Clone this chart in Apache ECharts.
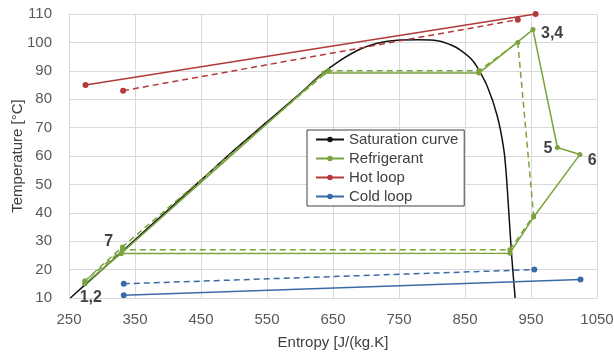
<!DOCTYPE html>
<html>
<head>
<meta charset="utf-8">
<script src="https://cdn.jsdelivr.net/npm/echarts@6/dist/echarts.min.js"></script>
<style>
  html, body { margin: 0; padding: 0; background: #fff; }
  #chart { width: 614px; height: 354px; }
</style>
</head>
<body>
<div id="chart"></div>
<script>
// saturation curve (black)
var satS = [252, 300, 350, 400, 450, 500, 550, 600, 631, 660, 690, 717, 747, 780, 808, 830, 843, 858, 868, 884, 899, 909, 913, 917, 921, 926]
var satT = [10, 20, 30.5, 41, 51.5, 62, 72, 82, 88.5, 93.5, 97.5, 99.7, 100.8, 100.9, 100.6, 99, 97.3, 94.5, 91.5, 84.4, 74, 62, 52, 38, 24, 10]

// refrigerant cycle, solid and dashed
var refS = [274, 329, 636, 871, 953, 990, 1024, 954, 918, 329, 274]
var refT = [15, 25.7, 89.2, 89.2, 104.5, 63, 60.5, 38.5, 25.8, 25.7, 15]
var refDashS = [274, 331, 643, 871, 930, 954, 918, 331, 274]
var refDashT = [16, 28, 90, 90, 100, 39, 27, 27, 16]

// hot loop
var hotS = [275, 957]
var hotT = [85, 110]
var hotDashS = [332, 930]
var hotDashT = [83, 108]

// cold loop
var coldS = [333, 1025]
var coldT = [11, 16.5]
var coldDashS = [333, 955]
var coldDashT = [15, 20]

// state point labels
var stateNames = ['1,2', '3,4', '5', '6', '7']
var stateS = [274, 953, 990, 1024, 329]
var stateT = [15, 104.5, 63, 60.5, 25.7]

var xTicks = [250, 350, 450, 550, 650, 750, 850, 950, 1050]

function pairs(xs, ys) {
    var out = []
    for (let i = 0; i < xs.length; i++) out.push([xs[i], ys[i]])
    return out
}

var green = '#79a33c', red = '#b23a3a', blue = '#3b6aa8'
var font = 'Liberation Sans, Arial, sans-serif'

function lineSeries(name, xs, ys, color, dashed, size) {
    return {
        name: name,
        type: 'line',
        data: pairs(xs, ys),
        symbol: 'circle',
        symbolSize: size,
        showSymbol: true,
        itemStyle: { color: color },
        lineStyle: { color: color, width: 1.5, type: dashed ? [6, 4] : 'solid' },
        emphasis: { disabled: true },
        animation: false
    }
}

var labelPos = [
    { position: 'inside', offset: [6, 14] },
    { position: 'right', distance: 5, offset: [3, 4] },
    { position: 'left', distance: 5, offset: [0, 1] },
    { position: 'right', distance: 5, offset: [3, 6] },
    { position: 'left', distance: 5, offset: [-3, -12] }
]
var stateData = []
for (let i = 0; i < stateNames.length; i++) {
    stateData.push({
        value: [stateS[i], stateT[i]],
        label: Object.assign({ show: true, formatter: stateNames[i] }, labelPos[i])
    })
}

var myChart = echarts.init(document.getElementById('chart'), null, { renderer: 'canvas' })

var option = {
    animation: false,
    textStyle: { fontFamily: font },
    grid: { left: 69, right: 17, top: 14, bottom: 56, containLabel: false, outerBoundsMode: 'none' },
    legend: {
        data: ['Saturation curve', 'Refrigerant', 'Hot loop', 'Cold loop'],
        orient: 'vertical',
        left: 307,
        top: 130,
        itemWidth: 28,
        itemHeight: 7,
        itemGap: 2,
        padding: [1, 6, 1, 8],
        backgroundColor: '#fff',
        borderColor: '#404040',
        borderWidth: 1,
        borderRadius: 0,
        textStyle: { fontSize: 15, lineHeight: 17, color: '#404040', fontFamily: font }
    },
    xAxis: {
        type: 'value',
        min: 250,
        max: 1050,
        name: 'Entropy [J/(kg.K]',
        nameLocation: 'middle',
        nameGap: 37,
        nameMoveOverlap: false,
        nameTextStyle: { fontSize: 15, color: '#404040' },
        axisLine: { show: true, lineStyle: { color: '#d9d9d9' } },
        axisTick: { show: false, customValues: xTicks },
        axisLabel: {
            customValues: xTicks, fontSize: 15, color: '#595959', margin: 14,
            formatter: function (v) { return String(v) }
        },
        splitLine: { show: true, lineStyle: { color: '#d9d9d9' } }
    },
    yAxis: {
        type: 'value',
        min: 10,
        max: 110,
        interval: 10,
        name: 'Temperature [°C]',
        nameLocation: 'middle',
        nameGap: 44,
        nameMoveOverlap: false,
        nameTextStyle: { fontSize: 15, color: '#404040' },
        axisLine: { show: false },
        axisTick: { show: false },
        axisLabel: { fontSize: 15, color: '#595959', margin: 17 },
        splitLine: { show: true, lineStyle: { color: '#d9d9d9' } }
    },
    series: [
        {
            name: 'Saturation curve',
            type: 'line',
            data: pairs(satS, satT),
            symbol: 'none',
            smooth: 0.3,
            itemStyle: { color: '#111' },
            lineStyle: { color: '#111', width: 1.5 },
            emphasis: { disabled: true }
        },
        lineSeries('Refrigerant', refS, refT, green, false, 5),
        lineSeries('Refrigerant', refDashS, refDashT, green, true, 5),
        lineSeries('Hot loop', hotS, hotT, red, false, 6),
        lineSeries('Hot loop', hotDashS, hotDashT, red, true, 6),
        lineSeries('Cold loop', coldS, coldT, blue, false, 6),
        lineSeries('Cold loop', coldDashS, coldDashT, blue, true, 6),
        {
            type: 'scatter',
            data: stateData,
            symbolSize: 0,
            silent: true,
            label: { fontSize: 16, fontWeight: 'bold', color: '#111', fontFamily: font }
        }
    ]
}

myChart.setOption(option, true)
</script>
</body>
</html>
